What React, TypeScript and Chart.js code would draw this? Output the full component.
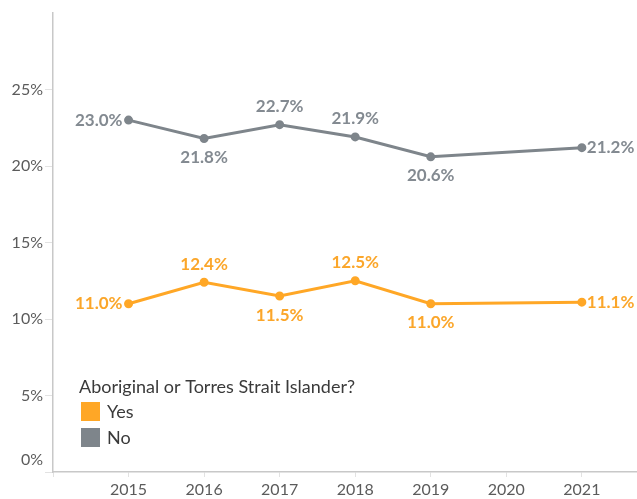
import React, { useEffect, useRef } from "react";
import { Chart, registerables } from "chart.js";

Chart.register(...registerables);

const years = [2015, 2016, 2017, 2018, 2019, 2021];
const yesValues = [11.0, 12.4, 11.5, 12.5, 11.0, 11.1];
const noValues = [23.0, 21.8, 22.7, 21.9, 20.6, 21.2];
// label placement per point: "left" | "right" | "above" | "below"
const yesLabelPos = ["left", "above", "below", "above", "below", "right"];
const noLabelPos = ["left", "below", "above", "above", "below", "right"];
const xTickYears = [2015, 2016, 2017, 2018, 2019, 2020, 2021];
const yTickValues = [0, 5, 10, 15, 20, 25];
const legendTitle = "Aboriginal or Torres Strait Islander?";
const seriesNames = ["Yes", "No"];

const ORANGE = "#ffa726";
const ORANGE_TEXT = "#fba62a";
const GRAY = "#7e858b";
const GRAY_TEXT = "#838a91";
const FONT = "Lato, 'Open Sans', sans-serif";

const labelPlugin = {
  id: "customLabels",
  afterDatasetsDraw(chart: any) {
    const ctx = chart.ctx;
    const xs = chart.scales.x;
    const ys = chart.scales.y;
    ctx.save();
    // y tick labels
    ctx.font = `16px ${FONT}`;
    ctx.fillStyle = "#5b5b5b";
    ctx.textAlign = "right";
    ctx.textBaseline = "middle";
    yTickValues.forEach((v) => {
      let py = ys.getPixelForValue(v);
      if (v === 0) py -= 12;
      ctx.fillText(v + "%", 43, py);
    });
    // data labels
    ctx.font = `bold 17px ${FONT}`;
    const sets = [
      { vals: yesValues, pos: yesLabelPos, color: ORANGE_TEXT },
      { vals: noValues, pos: noLabelPos, color: GRAY_TEXT },
    ];
    sets.forEach((s) => {
      s.vals.forEach((v, i) => {
        const px = xs.getPixelForValue(years[i]);
        const py = ys.getPixelForValue(v);
        const t = v.toFixed(1) + "%";
        ctx.fillStyle = s.color;
        ctx.textBaseline = "middle";
        const p = s.pos[i];
        if (p === "left") {
          ctx.textAlign = "right";
          ctx.fillText(t, px - 6, py);
        } else if (p === "right") {
          ctx.textAlign = "left";
          ctx.fillText(t, px + 5, py);
        } else if (p === "above") {
          ctx.textAlign = "center";
          ctx.fillText(t, px, py - 18);
        } else {
          ctx.textAlign = "center";
          ctx.fillText(t, px, py + 19);
        }
      });
    });
    // legend
    ctx.textAlign = "left";
    ctx.textBaseline = "middle";
    ctx.font = `18px ${FONT}`;
    ctx.fillStyle = "#3a3a3a";
    ctx.fillText(legendTitle, 79, 387);
    const colors = [ORANGE, GRAY];
    seriesNames.forEach((n, i) => {
      const top = 402 + i * 26;
      ctx.fillStyle = colors[i];
      ctx.fillRect(81, top, 19, 19);
      ctx.fillStyle = "#3a3a3a";
      ctx.fillText(n, 107, top + 10);
    });
    ctx.restore();
  },
};

export default function App() {
  const ref = useRef<HTMLCanvasElement>(null);
  useEffect(() => {
    if (!ref.current) return;
    const chart = new Chart(ref.current, {
      type: "line",
      data: {
        datasets: [
          {
            label: seriesNames[0],
            data: years.map((y, i) => ({ x: y, y: yesValues[i] })),
            borderColor: ORANGE,
            backgroundColor: ORANGE,
            borderWidth: 3,
            pointRadius: 3,
            pointHoverRadius: 3,
            tension: 0,
          },
          {
            label: seriesNames[1],
            data: years.map((y, i) => ({ x: y, y: noValues[i] })),
            borderColor: GRAY,
            backgroundColor: GRAY,
            borderWidth: 3,
            pointRadius: 3,
            pointHoverRadius: 3,
            tension: 0,
          },
        ],
      },
      options: {
        animation: false,
        responsive: false,
        maintainAspectRatio: false,
        layout: { autoPadding: false, padding: { left: 0, right: 0, top: 13, bottom: 0 } },
        plugins: { legend: { display: false }, tooltip: { enabled: false } },
        scales: {
          x: {
            type: "linear",
            min: 2014,
            max: 2021.73,
            afterBuildTicks: (scale: any) => {
              scale.ticks = [2014, ...xTickYears].map((v) => ({ value: v }));
            },
            afterFit: (scale: any) => {
              scale.height = 27;
              scale.paddingLeft = 0;
              scale.paddingRight = 0;
            },
            ticks: {
              font: { family: FONT, size: 16 },
              color: "#5b5b5b",
              padding: 3,
              callback: (v: any) => (v === 2014 ? "" : String(v)),
            },
            grid: {
              drawOnChartArea: false,
              drawTicks: true,
              tickLength: 5,
              color: "#e2e2e2",
            },
            border: { color: "#c8c8c8", width: 1.5 },
          },
          y: {
            min: 0,
            max: 30,
            afterBuildTicks: (scale: any) => {
              scale.ticks = yTickValues.map((v) => ({ value: v }));
            },
            afterFit: (scale: any) => {
              scale.width = 53;
              scale.paddingTop = 0;
              scale.paddingBottom = 0;
            },
            ticks: { display: false },
            grid: {
              drawOnChartArea: false,
              drawTicks: true,
              tickLength: 8,
              color: "#e2e2e2",
            },
            border: { color: "#c8c8c8", width: 1.5 },
          },
        },
      },
      plugins: [labelPlugin],
    });
    return () => chart.destroy();
  }, []);
  return (
    <div style={{ position: "absolute", left: 0, top: 0, width: 637, height: 499, background: "#fff" }}>
      <canvas ref={ref} width={637} height={499} style={{ display: "block" }} />
    </div>
  );
}
